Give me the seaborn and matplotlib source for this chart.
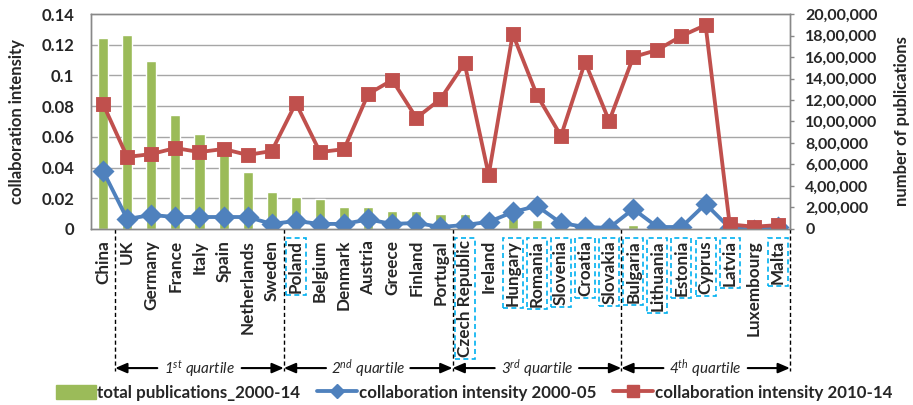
import numpy as np
import pandas as pd
import matplotlib
matplotlib.use("Agg")
import matplotlib.pyplot as plt
import matplotlib.transforms as mtransforms
from matplotlib.patches import Patch, Rectangle
from matplotlib.lines import Line2D
import seaborn as sns

countries = ["China", "UK", "Germany", "France", "Italy", "Spain", "Netherlands", "Sweden",
             "Poland", "Belgium", "Denmark", "Austria", "Greece", "Finland", "Portugal",
             "Czech Republic", "Ireland", "Hungary", "Romania", "Slovenia", "Croatia", "Slovakia",
             "Bulgaria", "Lithuania", "Estonia", "Cyprus", "Latvia", "Luxembourg", "Malta"]

# total publications 2000-14 (right axis)
total_pubs = [1775000, 1805000, 1563000, 1060000, 884000, 716000, 530000, 344000,
              298000, 279000, 205000, 200000, 167000, 167000, 140000,
              135000, 112000, 102000, 84000, 50000, 45000, 50000,
              37000, 25000, 22000, 10000, 12000, 8000, 5000]

# collaboration intensity (left axis)
ci_2000_05 = [0.0378, 0.0065, 0.0091, 0.0078, 0.0078, 0.0078, 0.0078, 0.0033,
              0.0052, 0.0033, 0.0033, 0.0062, 0.0033, 0.0039, 0.0013,
              0.0026, 0.0046, 0.0110, 0.0150, 0.0039, 0.0013, 0.0007,
              0.0130, 0.0013, 0.0013, 0.0163, 0.0007, -0.0005, 0.0010]
ci_2010_14 = [0.0814, 0.0469, 0.0488, 0.0527, 0.0501, 0.0521, 0.0482, 0.0508,
              0.0820, 0.0501, 0.0520, 0.0879, 0.0970, 0.0723, 0.0846,
              0.1080, 0.0352, 0.1270, 0.0873, 0.0606, 0.1087, 0.0703,
              0.1120, 0.1166, 0.1257, 0.1328, 0.0030, 0.0015, 0.0025]

# labels framed with a dashed box
boxed = ["Poland", "Czech Republic", "Hungary", "Romania", "Slovenia", "Croatia", "Slovakia",
         "Bulgaria", "Lithuania", "Estonia", "Cyprus", "Latvia", "Malta"]

quartile_first = ["UK", "Poland", "Czech Republic", "Bulgaria"]
quartile_names = [r"1$^{st}$ quartile", r"2$^{nd}$ quartile", r"3$^{rd}$ quartile", r"4$^{th}$ quartile"]

right_ticks = [0, 200000, 400000, 600000, 800000, 1000000, 1200000, 1400000, 1600000, 1800000, 2000000]
left_ticks = [0, 0.02, 0.04, 0.06, 0.08, 0.1, 0.12, 0.14]

green = "#9BBB59"
blue = "#4F81BD"
red = "#C0504D"
grid_c = "#A6A6A6"


def indian(n):
    s = str(n)
    if len(s) <= 3:
        return s
    head, tail = s[:-3], s[-3:]
    parts = []
    while len(head) > 2:
        parts.insert(0, head[-2:])
        head = head[:-2]
    if head:
        parts.insert(0, head)
    return ",".join(parts + [tail])


sns.set_style("white")
plt.rcParams["font.family"] = ["Lato", "DejaVu Sans"]
plt.rcParams["mathtext.fontset"] = "custom"
plt.rcParams["mathtext.rm"] = "Lato"
plt.rcParams["mathtext.it"] = "Lato:italic"

df = pd.DataFrame({"country": countries, "total": total_pubs,
                   "ci_old": ci_2000_05, "ci_new": ci_2010_14})

fig = plt.figure(figsize=(9.13, 4.05), dpi=100)
ax = fig.add_axes([0.0997, 0.4346, 0.7655, 0.5308])
ax2 = ax.twinx()

sns.barplot(data=df, x="country", y="total", color=green, saturation=1, width=0.42,
            ax=ax2, errorbar=None)
sns.pointplot(data=df, x="country", y="ci_old", color=blue, marker="D", markersize=9,
              linewidth=2.75, errorbar=None, ax=ax)
sns.pointplot(data=df, x="country", y="ci_new", color=red, marker="s", markersize=9,
              linewidth=2.75, errorbar=None, ax=ax)

ax.set_zorder(ax2.get_zorder() + 1)
ax.patch.set_visible(False)

n = len(countries)
ax.set_xlim(-0.5, n - 0.5)
ax.set_ylim(0, 0.14)
ax2.set_ylim(0, 2000000)

ax.set_yticks(left_ticks)
ax.set_yticklabels([f"{v:g}" for v in left_ticks], fontweight="bold", fontsize=12)
ax.tick_params(axis="y", left=True, length=0, pad=12)

ax2.set_yticks(right_ticks)
ax2.set_yticklabels([indian(v) for v in right_ticks], fontweight="bold", fontsize=11.5)
ax2.tick_params(axis="y", right=True, length=3, width=1, color="#888888", pad=8)

# horizontal grid at the left-axis ticks, drawn behind the bars
ax2.set_yticks([v / 0.14 * 2000000 for v in left_ticks], minor=True)
ax2.tick_params(axis="y", which="minor", length=0)
ax2.yaxis.grid(True, which="minor", color=grid_c, lw=1)
ax2.yaxis.grid(False, which="major")
ax2.set_axisbelow(True)
ax.grid(False)

ax.set_xticks(range(n))
ax.set_xticklabels(countries, rotation=90, fontweight="bold", fontsize=12.3)
ax.tick_params(axis="x", bottom=True, length=0, pad=8)
ax.set_xlabel("")
ax2.set_xlabel("")

ax.set_ylabel("collaboration intensity", fontweight="bold", fontsize=12)
ax.yaxis.set_label_coords(-0.094, 0.5)
ax2.set_ylabel("number of publications", fontweight="bold", fontsize=12)
ax2.yaxis.set_label_coords(1.149, 0.5)

for a in (ax, ax2):
    for s in a.spines.values():
        s.set_color("#888888")
        s.set_linewidth(1)

# quartile separators and arrows below the axis
trans = mtransforms.blended_transform_factory(ax.transData, ax.transAxes)
edges = [countries.index(c) - 0.5 for c in quartile_first] + [n - 0.5]
for e in edges:
    ax.plot([e, e], [0, -0.66], transform=trans, color="black", lw=1, ls=(0, (3, 2)),
            clip_on=False)
yq = -0.647
gap = 1.75
for i, name in enumerate(quartile_names):
    lo, hi = edges[i], edges[i + 1]
    mid = (lo + hi) / 2
    ax.text(mid, yq, name, transform=trans, ha="center", va="center",
            style="italic", fontsize=11)
    for tip, tail in ((lo, mid - gap), (hi, mid + gap)):
        ax.annotate("", xy=(tip, yq), xytext=(tail, yq), xycoords=trans, textcoords=trans,
                    annotation_clip=False,
                    arrowprops=dict(arrowstyle="-|>,head_length=0.7,head_width=0.3",
                                    color="black", lw=1.5, shrinkA=0, shrinkB=0))

handles = [Patch(color=green),
           Line2D([], [], color=blue, lw=2.75, marker="D", markersize=7),
           Line2D([], [], color=red, lw=2.75, marker="s", markersize=8)]
labels = ["total publications_2000-14", "collaboration intensity 2000-05",
          "collaboration intensity 2010-14"]
fig.legend(handles, labels, loc="center", bbox_to_anchor=(0.519, 0.03), ncol=3,
           frameon=False, prop=dict(weight="bold", size=12.2), handlelength=2.35,
           handleheight=0.9, handletextpad=0.1, columnspacing=1.0)

# dashed boxes around some country labels
fig.canvas.draw()
renderer = fig.canvas.get_renderer()
inv = fig.transFigure.inverted()
for lab in ax.get_xticklabels():
    if lab.get_text() in boxed:
        bb = lab.get_window_extent(renderer)
        x0, y0 = inv.transform((bb.x0 - 2, bb.y0 - 2))
        x1, y1 = inv.transform((bb.x1 + 2, bb.y1 + 2))
        fig.add_artist(Rectangle((x0, y0), x1 - x0, y1 - y0, transform=fig.transFigure,
                                 fill=False, edgecolor="#00B0F0", lw=1.2, ls=(0, (3, 2))))

fig.savefig("out.png", dpi=100)
